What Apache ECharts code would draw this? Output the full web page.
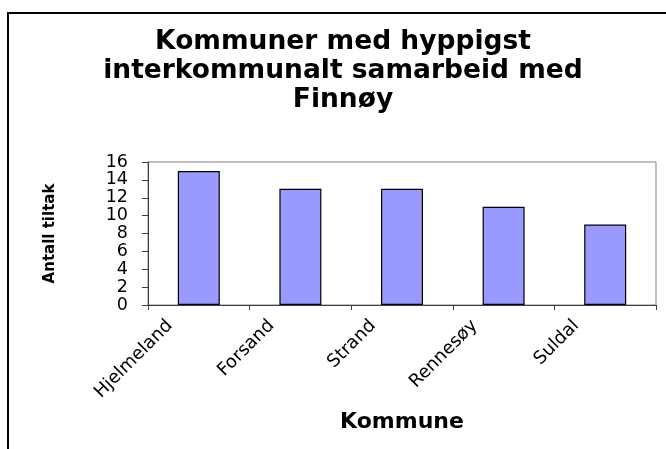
<!DOCTYPE html>
<html>
<head>
<meta charset="utf-8">
<script src="https://cdn.jsdelivr.net/npm/echarts@6/dist/echarts.min.js"></script>
<style>html,body{margin:0;padding:0;background:#fff}#chart{width:666px;height:449px}</style>
</head>
<body>
<div id="chart"></div>
<script>
const titleText = 'Kommuner med hyppigst\ninterkommunalt samarbeid med\nFinnøy';
const categories = ['Hjelmeland', 'Forsand', 'Strand', 'Rennesøy', 'Suldal'];
const values = [15, 13, 13, 11, 9];
const xAxisTitle = 'Kommune';
const yAxisTitle = 'Antall tiltak';
const yMin = 0, yMax = 16, yStep = 2;

const chart = echarts.init(document.getElementById('chart'), null, {renderer: 'canvas'});
chart.setOption({
  animation: false,
  backgroundColor: '#ffffff',
  title: {
    text: titleText,
    left: 343,
    top: 28,
    padding: 0,
    textAlign: 'center',
    textStyle: {fontFamily: 'DejaVu Sans', fontWeight: 'bold', fontSize: 26.5, lineHeight: 29, color: '#000'}
  },
  graphic: [{
    type: 'rect',
    shape: {x: 8, y: 13, width: 700, height: 500},
    style: {fill: 'none', stroke: '#000', lineWidth: 2},
    silent: true, z: -1
  }],
  grid: {left: 148, right: 10, top: 162, bottom: 144, show: true, borderColor: '#808080', borderWidth: 1, backgroundColor: 'transparent'},
  xAxis: {
    type: 'category',
    data: categories,
    name: xAxisTitle,
    nameLocation: 'middle',
    nameGap: 106,
    nameTextStyle: {fontFamily: 'DejaVu Sans', fontWeight: 'bold', fontSize: 22, color: '#000'},
    axisLine: {lineStyle: {color: '#404040', width: 1}},
    axisTick: {show: true, length: 5, lineStyle: {color: '#404040'}},
    axisLabel: {
      rotate: 45, interval: 0, margin: -11, padding: [0, 41, 0, 0],
      fontFamily: 'DejaVu Sans', fontSize: 18, color: '#000'
    },
    splitLine: {show: false}
  },
  yAxis: {
    type: 'value',
    min: yMin, max: yMax, interval: yStep,
    name: yAxisTitle,
    nameLocation: 'middle',
    nameRotate: 90,
    nameGap: 90,
    nameTextStyle: {fontFamily: 'DejaVu Sans', fontWeight: 'bold', fontSize: 15, color: '#000'},
    axisLine: {show: true, lineStyle: {color: '#404040', width: 1}},
    axisTick: {show: true, length: 6, lineStyle: {color: '#404040'}},
    axisLabel: {margin: 20, showMinLabel: true, showMaxLabel: true, hideOverlap: false, fontFamily: 'DejaVu Sans', fontSize: 17.5, color: '#000'},
    splitLine: {show: false}
  },
  series: [{
    type: 'bar',
    data: values,
    barWidth: 42,
    itemStyle: {color: '#9999FF', borderColor: '#000', borderWidth: 1.2}
  }]
});
</script>
</body>
</html>
